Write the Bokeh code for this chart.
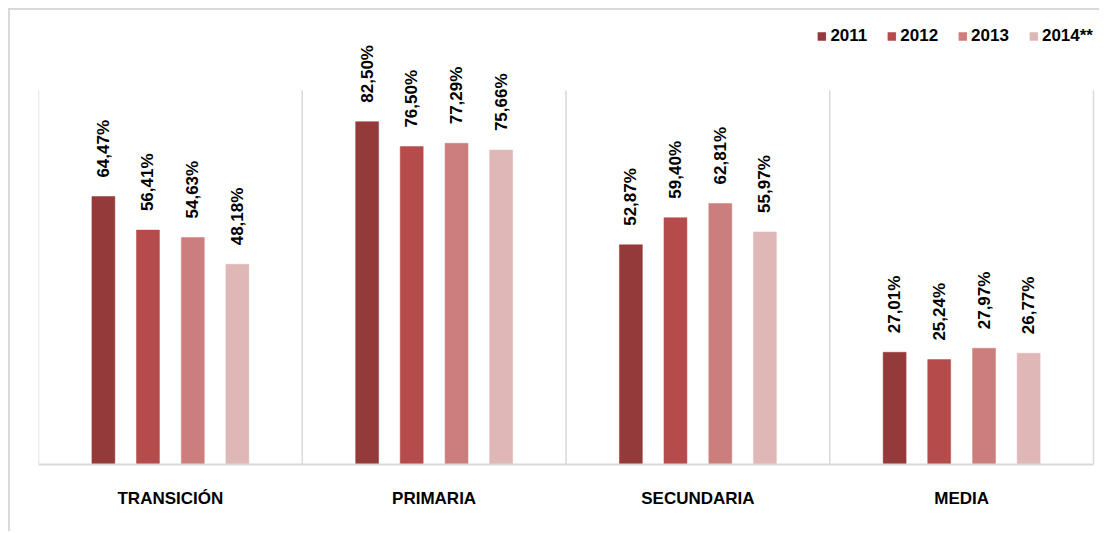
import math
from bokeh.plotting import figure
from bokeh.models import (ColumnDataSource, Range1d, FixedTicker, Legend, LegendItem)
from bokeh.core.properties import value
from bokeh.embed import file_html
from bokeh.resources import INLINE

categories = ["TRANSICIÓN", "PRIMARIA", "SECUNDARIA", "MEDIA"]
years = ["2011", "2012", "2013", "2014**"]
v2011 = [64.47, 82.50, 52.87, 27.01]
v2012 = [56.41, 76.50, 59.40, 25.24]
v2013 = [54.63, 77.29, 62.81, 27.97]
v2014 = [48.18, 75.66, 55.97, 26.77]
series = [v2011, v2012, v2013, v2014]
colors = ["#953a3a", "#b54b4a", "#cc7e7d", "#e0b7b7"]
offsets = [-0.254, -0.085, 0.085, 0.254]
bar_w = 0.087
grid_top = 90

FONT = "Liberation Sans"
n = len(categories)

W, H = 1091, 523
frame_left, frame_right = 28, 1091
frame_top, frame_bottom = 8, 454
cat_px = (1083 - 28) / n
y_per_px = grid_top / 374.0

p = figure(width=W, height=H, output_backend="svg", toolbar_location=None,
           x_range=Range1d(0, (frame_right - frame_left) / cat_px),
           y_range=Range1d(0, (frame_bottom - frame_top) * y_per_px),
           min_border_left=frame_left, min_border_right=W - frame_right,
           min_border_top=frame_top, min_border_bottom=H - frame_bottom)
p.styles = {"margin-left": "8px", "margin-top": "8px",
            "border-left": "2px solid #d9d9d9", "border-top": "2px solid #d9d9d9"}
p.outline_line_color = None
p.background_fill_color = "white"
p.border_fill_color = "white"

# category separators
sep_x = list(range(n + 1))
p.segment(x0=sep_x, y0=[0] * (n + 1), x1=sep_x, y1=[grid_top] * (n + 1),
          line_color="#d9d9d9", line_width=1.5)

items = []
for vals, col, off, yr in zip(series, colors, offsets, years):
    xs = [k + 0.5 + off for k in range(n)]
    labels = [f"{v:.2f}".replace(".", ",") + "%" for v in vals]
    src = ColumnDataSource(dict(x=xs, top=vals, lab=labels))
    r = p.vbar(x="x", top="top", bottom=0, width=bar_w, source=src,
               fill_color=col, line_color=col, line_width=0.5)
    p.text(x="x", y="top", text="lab", source=src, angle=math.pi / 2,
           text_align="left", text_baseline="middle", y_offset=-19,
           text_font=value(FONT), text_font_size="17px", text_font_style="bold",
           text_color="#000000")
    items.append(LegendItem(label=yr, renderers=[r]))

legend = Legend(items=items, orientation="horizontal", location="top_right",
                glyph_width=10, glyph_height=10, label_standoff=4, spacing=19,
                padding=4, margin=8, border_line_color=None, background_fill_alpha=0,
                label_text_font=FONT, label_text_font_size="17px",
                label_text_font_style="bold", label_text_color="#000000")
p.add_layout(legend)

# axes
p.yaxis.visible = False
p.ygrid.visible = False
p.xgrid.visible = False
p.xaxis.ticker = FixedTicker(ticks=[k + 0.5 for k in range(n)])
p.xaxis.major_label_overrides = {k + 0.5: c for k, c in enumerate(categories)}
p.xaxis.bounds = (0, n)
p.xaxis.major_tick_line_color = None
p.xaxis.minor_tick_line_color = None
p.xaxis.axis_line_color = "#d9d9d9"
p.xaxis.axis_line_width = 2
p.xaxis.major_label_standoff = 18
p.xaxis.major_label_text_font = FONT
p.xaxis.major_label_text_font_size = "17px"
p.xaxis.major_label_text_font_style = "bold"
p.xaxis.major_label_text_color = "#000000"

open("out.html", "w").write(file_html(p, INLINE))
